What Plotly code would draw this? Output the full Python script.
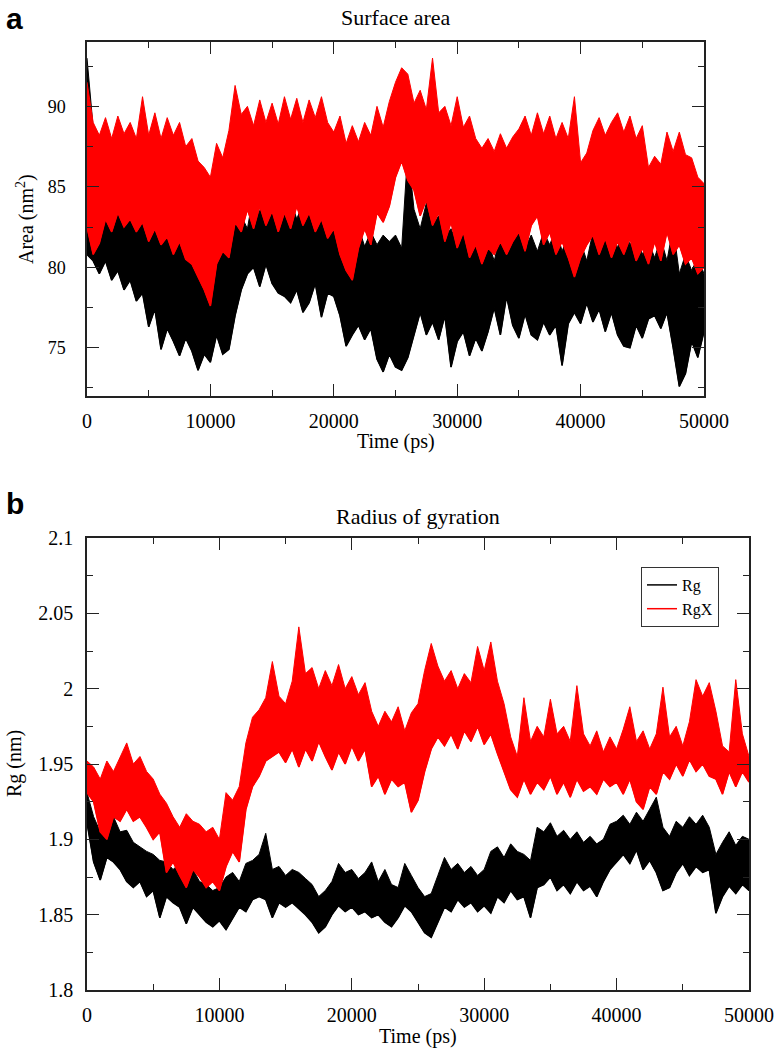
import plotly.graph_objects as go

# ---------------- data ----------------
TIME = list(range(0, 50001, 500))  # ps

# Panel a: surface area (nm^2), lower / upper envelope of each trace
AREA_BLACK_LO = [80.8, 80.4, 79.6, 80.4, 79.2, 79.8, 78.6, 79.2, 77.9, 78.4,
                 76.3, 77.4, 74.9, 76.2, 75.4, 74.5, 75.6, 74.8, 73.6, 74.6,
                 74.1, 75.8, 74.6, 74.9, 77.0, 78.6, 79.6, 80.0, 78.8, 80.2,
                 79.0, 78.4, 78.2, 77.8, 78.6, 77.2, 77.8, 79.0, 76.9, 78.4,
                 78.2, 77.0, 75.1, 75.8, 76.4, 75.5, 76.2, 74.3, 73.5, 74.6,
                 73.8, 73.6, 74.4, 75.8, 77.2, 75.8, 76.6, 75.5, 77.0, 73.8,
                 75.4, 76.0, 74.5, 75.6, 74.8, 76.0, 77.5, 75.8, 78.2, 76.4,
                 75.6, 77.1, 75.8, 75.5, 76.6, 75.8, 76.4, 73.9, 76.5, 77.2,
                 76.5, 77.8, 76.6, 77.4, 76.0, 77.2, 75.8, 75.1, 75.0, 76.4,
                 75.6, 76.8, 77.0, 76.2, 77.2, 75.0, 72.6, 73.4, 75.4, 74.4,
                 76.0]
AREA_BLACK_HI = [93.0, 88.7, 85.6, 83.7, 83.2, 84.0, 83.4, 84.4, 83.3, 84.2,
                 82.6, 84.0, 82.4, 83.3, 82.0, 82.6, 81.2, 81.0, 80.2, 80.0,
                 80.6, 84.2, 83.0, 83.8, 82.6, 83.2, 82.4, 84.6, 83.4, 85.4,
                 83.6, 84.8, 83.4, 84.2, 83.0, 84.0, 83.2, 84.4, 83.4, 84.0,
                 83.2, 83.6, 82.4, 81.8, 82.5, 81.3, 82.2, 81.4, 82.0, 81.6,
                 82.0, 81.2, 87.3, 83.6, 82.4, 84.0, 82.6, 83.2, 82.0, 82.4,
                 81.4, 82.5, 80.8, 82.0, 80.6, 81.6, 80.4, 82.0, 80.8, 82.4,
                 82.8, 81.2, 82.0, 81.0, 82.2, 81.4, 82.4, 81.0, 82.0, 80.6,
                 81.6, 80.4, 82.2, 83.0, 81.6, 82.4, 81.2, 82.6, 81.4, 82.0,
                 80.8, 81.6, 80.6, 81.8, 80.4, 82.5, 79.6, 80.8, 79.8, 80.6,
                 79.6]
AREA_RED_LO = [82.5, 80.8, 81.5, 83.0, 82.2, 83.4, 82.5, 83.0, 82.2, 82.8,
               81.6, 82.4, 81.4, 81.9, 80.8, 81.6, 80.5, 80.2, 79.4, 78.6,
               77.6, 80.2, 81.0, 80.6, 82.8, 82.2, 83.6, 82.4, 83.8, 82.6,
               83.5, 82.2, 83.4, 82.4, 83.8, 82.6, 83.4, 82.2, 83.0, 81.8,
               82.4, 80.8, 79.8, 79.2, 81.2, 82.4, 81.4, 83.4, 82.8, 83.8,
               85.6, 86.6, 85.4, 84.8, 83.2, 84.2, 82.6, 83.4, 81.6, 82.8,
               81.2, 82.2, 80.6, 81.4, 80.2, 81.2, 80.8, 81.6, 80.8, 81.6,
               82.2, 81.0, 82.6, 83.2, 81.4, 82.2, 80.8, 81.6, 80.6, 79.4,
               80.6, 81.4, 82.0, 80.8, 81.8, 80.6, 81.6, 80.8, 81.8, 80.4,
               81.2, 80.2, 81.6, 80.4, 82.2, 80.8, 81.4, 80.2, 80.6, 79.6,
               80.0]
AREA_RED_HI = [91.5, 89.0, 88.2, 89.3, 88.0, 89.4, 88.3, 89.0, 88.0, 90.6,
               88.2, 89.6, 88.0, 89.3, 88.2, 89.0, 87.5, 88.0, 86.6, 86.2,
               85.6, 87.7, 86.8, 88.5, 91.3, 89.5, 90.0, 88.8, 90.4, 89.0,
               90.2, 88.9, 90.6, 89.2, 90.5, 89.0, 90.4, 89.3, 90.6, 89.0,
               88.4, 89.4, 87.7, 88.8, 87.8, 89.0, 88.2, 90.0, 88.7, 90.3,
               91.5, 92.4, 92.0, 90.2, 91.0, 89.8, 93.0, 89.6, 90.0, 88.8,
               90.6, 88.7, 89.4, 88.0, 87.4, 88.0, 87.2, 88.3, 87.4, 88.1,
               88.6, 89.4, 88.2, 89.6, 88.3, 89.4, 88.0, 89.0, 88.0, 90.6,
               86.5, 87.1, 88.5, 89.3, 88.2, 89.0, 89.6, 88.4, 89.4, 88.0,
               88.8, 86.2, 86.9, 86.4, 88.4, 87.2, 88.4, 87.0, 86.8, 85.6,
               85.2]

# Panel b: radius of gyration (nm), lower / upper envelope of each trace
RG_LO = [1.911, 1.885, 1.873, 1.888, 1.885, 1.880, 1.872, 1.868, 1.872, 1.862,
         1.866, 1.848, 1.862, 1.858, 1.855, 1.844, 1.855, 1.850, 1.845, 1.842,
         1.846, 1.840, 1.848, 1.855, 1.852, 1.860, 1.862, 1.860, 1.848, 1.858,
         1.855, 1.858, 1.854, 1.850, 1.845, 1.838, 1.842, 1.850, 1.856, 1.852,
         1.855, 1.850, 1.852, 1.848, 1.850, 1.845, 1.842, 1.848, 1.856, 1.852,
         1.845, 1.838, 1.835, 1.845, 1.855, 1.852, 1.860, 1.855, 1.858, 1.852,
         1.856, 1.851, 1.862, 1.858, 1.866, 1.860, 1.862, 1.848, 1.868, 1.870,
         1.875, 1.866, 1.870, 1.864, 1.872, 1.866, 1.869, 1.862, 1.872, 1.880,
         1.885, 1.890, 1.884, 1.893, 1.880, 1.886, 1.878, 1.866, 1.868, 1.878,
         1.884, 1.876, 1.882, 1.878, 1.880, 1.851, 1.862, 1.869, 1.864, 1.870,
         1.866]
RG_HI = [1.931, 1.915, 1.905, 1.912, 1.915, 1.905, 1.906, 1.898, 1.895, 1.892,
         1.890, 1.886, 1.885, 1.880, 1.884, 1.878, 1.880, 1.872, 1.870, 1.866,
         1.868, 1.875, 1.878, 1.872, 1.884, 1.886, 1.890, 1.904, 1.880, 1.882,
         1.876, 1.880, 1.878, 1.874, 1.870, 1.862, 1.866, 1.872, 1.884, 1.878,
         1.880, 1.874, 1.878, 1.885, 1.872, 1.880, 1.870, 1.868, 1.884, 1.876,
         1.868, 1.862, 1.864, 1.876, 1.888, 1.880, 1.884, 1.878, 1.882, 1.876,
         1.880, 1.892, 1.895, 1.888, 1.897, 1.892, 1.890, 1.886, 1.908, 1.905,
         1.911, 1.902, 1.906, 1.900, 1.905, 1.898, 1.902, 1.897, 1.900, 1.910,
         1.912, 1.916, 1.910, 1.918, 1.912, 1.920, 1.928, 1.908, 1.902, 1.912,
         1.908, 1.915, 1.910, 1.916, 1.908, 1.890, 1.898, 1.905, 1.896, 1.902,
         1.900]
RGX_LO = [1.931, 1.925, 1.905, 1.900, 1.915, 1.912, 1.920, 1.912, 1.915, 1.908,
          1.900, 1.905, 1.878, 1.885, 1.876, 1.868, 1.880, 1.875, 1.868, 1.872,
          1.866, 1.882, 1.892, 1.885, 1.920, 1.935, 1.942, 1.952, 1.955, 1.958,
          1.951, 1.960, 1.948, 1.960, 1.952, 1.965, 1.955, 1.946, 1.958, 1.950,
          1.962, 1.952, 1.960, 1.935, 1.942, 1.930, 1.940, 1.935, 1.938, 1.918,
          1.926, 1.945, 1.960, 1.968, 1.962, 1.970, 1.960, 1.972, 1.965, 1.975,
          1.963, 1.970, 1.957, 1.945, 1.933, 1.928, 1.940, 1.930, 1.938, 1.933,
          1.942, 1.930, 1.938, 1.928, 1.940, 1.932, 1.935, 1.930, 1.940, 1.935,
          1.938, 1.930, 1.940, 1.925, 1.920, 1.935, 1.930, 1.945, 1.940, 1.950,
          1.942, 1.953, 1.945, 1.950, 1.942, 1.940, 1.930, 1.945, 1.935, 1.945,
          1.938]
RGX_HI = [1.952, 1.948, 1.940, 1.952, 1.945, 1.955, 1.964, 1.950, 1.955, 1.945,
          1.940, 1.930, 1.924, 1.915, 1.908, 1.917, 1.912, 1.910, 1.905, 1.908,
          1.900, 1.931, 1.926, 1.935, 1.964, 1.981, 1.986, 1.994, 2.018, 1.995,
          1.990, 2.005, 2.041, 2.010, 2.014, 2.000, 2.012, 2.002, 2.016, 2.000,
          2.008, 1.996, 2.004, 1.985, 1.975, 1.985, 1.978, 1.988, 1.972, 1.984,
          1.990, 2.012, 2.030, 2.015, 2.005, 2.012, 2.000, 2.010, 2.004, 2.028,
          2.012, 2.031, 2.005, 1.990, 1.968, 1.955, 1.994, 1.965, 1.975, 1.968,
          1.993, 1.970, 1.975, 1.965, 2.002, 1.970, 1.962, 1.972, 1.958, 1.968,
          1.960, 1.973, 1.988, 1.965, 1.972, 1.960, 1.970, 2.001, 1.968, 1.975,
          1.962, 1.978, 2.006, 1.995, 2.004, 1.985, 1.962, 1.958, 2.006, 1.970,
          1.955]

X_TICKS = [0, 10000, 20000, 30000, 40000, 50000]
X_TICK_TEXT = ["0", "10000", "20000", "30000", "40000", "50000"]
AREA_TICKS = [75, 80, 85, 90]
AREA_TICK_TEXT = ["75", "80", "85", "90"]
RG_TICKS = [1.8, 1.85, 1.9, 1.95, 2.0, 2.05, 2.1]
RG_TICK_TEXT = ["1.8", "1.85", "1.9", "1.95", "2", "2.05", "2.1"]

# ---------------- figure ----------------
W, H = 779, 1051
SERIF = "Liberation Serif"
BLACK = "#000000"
RED = "#ff0000"


def band(x, lo, hi, color, xa, ya, name, legend):
    """Filled envelope polygon (no legend) plus the lower edge line (legend)."""
    poly = go.Scatter(x=list(x) + list(x)[::-1], y=list(lo) + list(hi)[::-1],
                      mode="lines", line=dict(color=color, width=1),
                      fill="toself", fillcolor=color, showlegend=False,
                      xaxis=xa, yaxis=ya, hoverinfo="skip", name=name)
    edge = go.Scatter(x=x, y=lo, mode="lines", line=dict(color=color, width=1.5),
                      name=name, showlegend=legend, xaxis=xa, yaxis=ya,
                      hoverinfo="skip")
    return [poly, edge]


traces = []
traces += band(TIME, AREA_BLACK_LO, AREA_BLACK_HI, BLACK, "x", "y", "Rg", False)
traces += band(TIME, AREA_RED_LO, AREA_RED_HI, RED, "x", "y", "RgX", False)
traces += band(TIME, RG_LO, RG_HI, BLACK, "x2", "y2", "Rg", True)
traces += band(TIME, RGX_LO, RGX_HI, RED, "x2", "y2", "RgX", True)

fig = go.Figure(data=traces)


def px_x(p):
    return p / W


def px_y(p):
    return 1 - p / H


def axis(size, standoff):
    return dict(
        showline=True, linecolor="#222", linewidth=1.5, mirror="allticks",
        ticks="inside", ticklen=12, tickwidth=1.2, tickcolor="#222",
        showgrid=False, zeroline=False, automargin=False,
        ticklabelstandoff=standoff,
        tickfont=dict(family=SERIF, size=size, color=BLACK),
    )


def minor(tick0, dtick):
    return dict(tickmode="linear", tick0=tick0, dtick=dtick, ticks="inside",
                ticklen=6, tickwidth=1.2, tickcolor="#222", showgrid=False)


fig.update_layout(
    width=W, height=H,
    margin=dict(l=0, r=0, t=0, b=0, autoexpand=False),
    paper_bgcolor="white", plot_bgcolor="white",
    font=dict(family=SERIF, color=BLACK),
    xaxis=dict(domain=[px_x(87), px_x(704)], range=[0, 50000], anchor="y",
               tickmode="array", tickvals=X_TICKS, ticktext=X_TICK_TEXT,
               minor=minor(0, 5000), **axis(20, 6)),
    yaxis=dict(domain=[px_y(396), px_y(42)], range=[72, 94], anchor="x",
               tickmode="array", tickvals=AREA_TICKS, ticktext=AREA_TICK_TEXT,
               minor=minor(72.5, 2.5), **axis(18, 16)),
    xaxis2=dict(domain=[px_x(87), px_x(749)], range=[0, 50000], anchor="y2",
                tickmode="array", tickvals=X_TICKS, ticktext=X_TICK_TEXT,
                minor=minor(0, 5000), **axis(20, 6)),
    yaxis2=dict(domain=[px_y(990), px_y(538)], range=[1.8, 2.1], anchor="x2",
                tickmode="array", tickvals=RG_TICKS, ticktext=RG_TICK_TEXT,
                minor=minor(1.8, 0.025), **axis(20, 8)),
    legend=dict(x=px_x(719), y=px_y(567), xanchor="right", yanchor="top",
                bgcolor="white", bordercolor="#333", borderwidth=1,
                font=dict(family=SERIF, size=16, color=BLACK),
                itemwidth=30, tracegroupgap=0, traceorder="normal"),
)

ann = [
    dict(text="Surface area", x=px_x(395.5), y=px_y(18), size=22, angle=0, fam=SERIF),
    dict(text="Radius of gyration", x=px_x(418), y=px_y(516), size=22, angle=0, fam=SERIF),
    dict(text="Time (ps)", x=px_x(395.5), y=px_y(441), size=20, angle=0, fam=SERIF),
    dict(text="Time (ps)", x=px_x(418), y=px_y(1036), size=20, angle=0, fam=SERIF),
    dict(text="Area (nm<sup>2</sup>)", x=px_x(26), y=px_y(219), size=20, angle=-90, fam=SERIF),
    dict(text="Rg (nm)", x=px_x(14), y=px_y(764), size=20, angle=-90, fam=SERIF),
    dict(text="<b>a</b>", x=px_x(14), y=px_y(19), size=30, angle=0, fam="Liberation Sans"),
    dict(text="<b>b</b>", x=px_x(15), y=px_y(503), size=30, angle=0, fam="Liberation Sans"),
]
for a in ann:
    fig.add_annotation(text=a["text"], x=a["x"], y=a["y"], xref="paper", yref="paper",
                       xanchor="center", yanchor="middle", showarrow=False,
                       textangle=a["angle"],
                       font=dict(family=a["fam"], size=a["size"], color=BLACK))

fig.write_html("out.html", config={"displayModeBar": False},
               post_script="document.body.style.margin='0';")
